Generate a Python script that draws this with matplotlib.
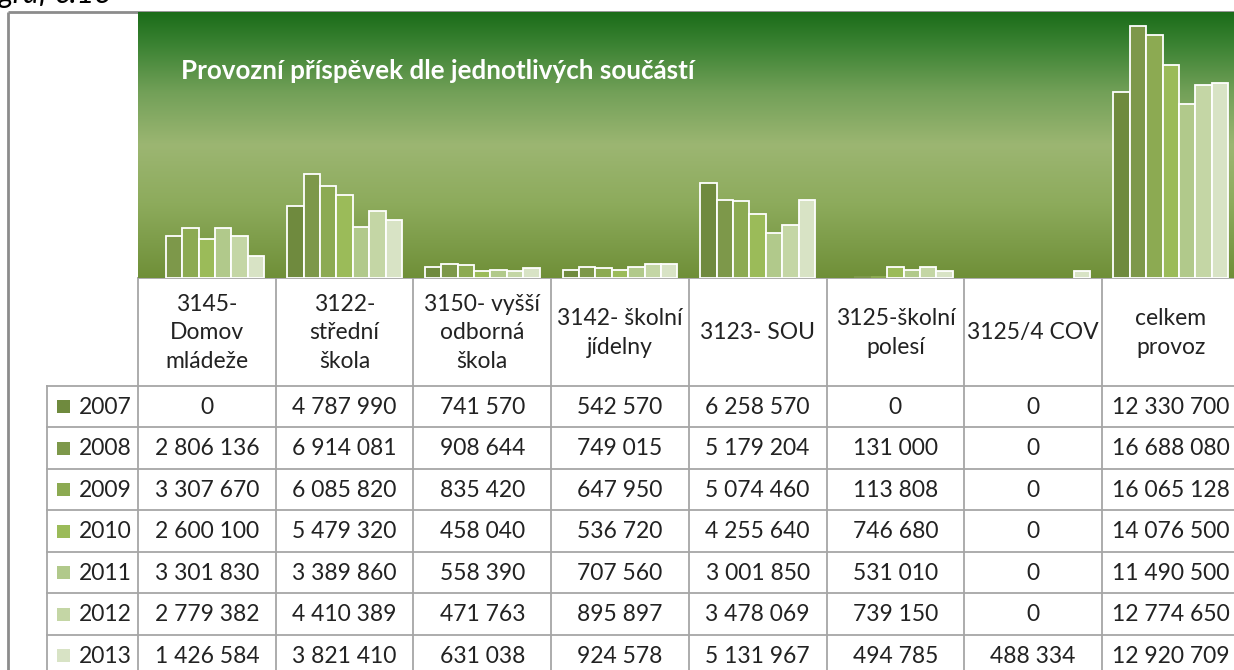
import numpy as np
import matplotlib.pyplot as plt
from matplotlib.colors import LinearSegmentedColormap

# data
categories = ["3145-\nDomov\nmládeže", "3122-\nstřední\nškola", "3150- vyšší\nodborná\nškola",
              "3142- školní\njídelny", "3123- SOU", "3125-školní\npolesí", "3125/4 COV",
              "celkem\nprovoz"]
years = ["2007", "2008", "2009", "2010", "2011", "2012", "2013"]
v2007 = [0, 4787990, 741570, 542570, 6258570, 0, 0, 12330700]
v2008 = [2806136, 6914081, 908644, 749015, 5179204, 131000, 0, 16688080]
v2009 = [3307670, 6085820, 835420, 647950, 5074460, 113808, 0, 16065128]
v2010 = [2600100, 5479320, 458040, 536720, 4255640, 746680, 0, 14076500]
v2011 = [3301830, 3389860, 558390, 707560, 3001850, 531010, 0, 11490500]
v2012 = [2779382, 4410389, 471763, 895897, 3478069, 739150, 0, 12774650]
v2013 = [1426584, 3821410, 631038, 924578, 5131967, 494785, 488334, 12920709]
series = [v2007, v2008, v2009, v2010, v2011, v2012, v2013]
colors = ["#6f8a3e", "#7d984a", "#8caa52", "#9bbb59", "#b1c98b", "#c4d6a5", "#d8e3c5"]
title = "Provozní příspěvek dle jednotlivých součástí"

W, H = 1234, 670
fig = plt.figure(figsize=(W / 100, H / 100), dpi=100)
plt.rcParams['font.family'] = ['Lato', 'DejaVu Sans']

# overlay in pixel coordinates for frame + table
ov = fig.add_axes([0, 0, 1, 1])
ov.set_xlim(0, W)
ov.set_ylim(H, 0)
ov.axis('off')

# chart area in pixels
left, right, top, base = 138, 1239.6, 12, 278
colw = (right - left) / len(categories)
ymax = 17.6e6

ax = fig.add_axes([left / W, (H - base) / H, (right - left) / W, (base - top) / H])
ax.axis('off')

# background gradient (dark green on top)
grad = LinearSegmentedColormap.from_list("g", [
    (0.0, "#1b6c19"), (0.12, "#3a8232"), (0.3, "#72a058"), (0.5, "#9cb672"),
    (0.72, "#8dab5c"), (1.0, "#6f8f38")])
ax.imshow(np.linspace(0, 1, 256).reshape(-1, 1), cmap=grad, aspect='auto',
          extent=(-0.5, len(categories) - 0.5, 0, ymax), origin='upper', zorder=0)
ax.set_xlim(-0.5, len(categories) - 0.5)
ax.set_ylim(0, ymax)

x = np.arange(len(categories))
bw = 0.119
for j, vals in enumerate(series):
    # very small / zero bars show no white outline in the original
    lws = [1.3 if v > 0.01 * ymax else 0 for v in vals]
    ax.bar(x + (j - 3) * bw, vals, width=bw, color=colors[j], edgecolor='white',
           linewidth=lws, zorder=2)

ax.text(0.039, 0.78, title, transform=ax.transAxes, color='white', fontsize=18.7,
        fontweight='bold', va='center', ha='left')

# outer frame
fc = '#8c8c8c'
ov.plot([8, 8], [12, H], color=fc, lw=2, solid_capstyle='butt')
ov.plot([8, W], [12, 12], color=fc, lw=2, solid_capstyle='butt')
ov.text(-1, 3, "graf č.13", fontsize=22, style='italic', va='baseline', ha='left')

# table
lc = '#a6a6a6'
hdr_bot = 385.5
rowh = 41.5
nrows = len(years)
col_edges = [left + i * colw for i in range(len(categories) + 1)]
for xe in col_edges:
    ov.plot([xe, xe], [base, H], color=lc, lw=1.3)
ov.plot([47, 47], [hdr_bot, H], color=lc, lw=1.3)
for r in range(nrows):
    yy = hdr_bot + r * rowh
    ov.plot([47, right], [yy, yy], color=lc, lw=1.3)
ov.plot([left, right], [base, base], color=lc, lw=1.3)

fs = 16.5
for i, cat in enumerate(categories):
    cx = left + (i + 0.5) * colw
    ov.text(cx, (base + hdr_bot) / 2 + 1, cat, ha='center', va='center', fontsize=fs,
            linespacing=1.45, color='#222222')
for r, yr in enumerate(years):
    cy = hdr_bot + (r + 0.5) * rowh
    ov.add_patch(plt.Rectangle((57, cy - 6), 13, 13, color=colors[r], lw=0))
    ov.text(105, cy + 1, yr, ha='center', va='center', fontsize=fs, color='#222222')
    for i in range(len(categories)):
        cx = left + (i + 0.5) * colw
        s = f"{series[r][i]:,}".replace(",", " ")
        ov.text(cx, cy + 1, s, ha='center', va='center', fontsize=fs, color='#222222')

fig.savefig("out.png", dpi=100)
